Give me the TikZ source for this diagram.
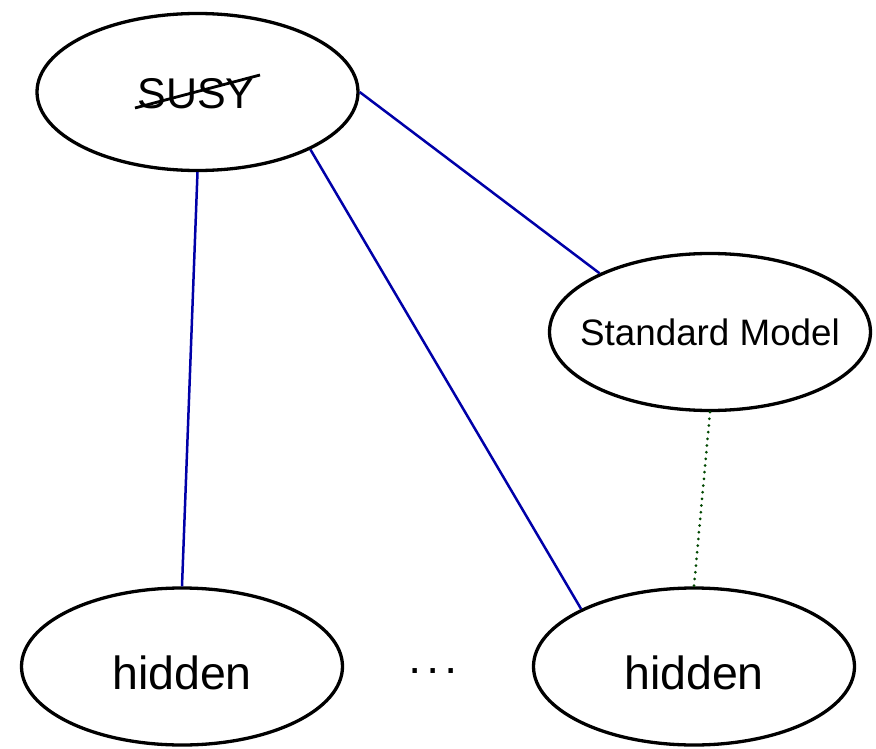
\documentclass[tikz,border=0pt]{standalone}
\usepackage{fontspec}
\setmainfont{Liberation Sans}
\usetikzlibrary{shapes.geometric,calc}
\definecolor{linkblue}{rgb}{0,0,0.66}
\definecolor{dotgreen}{rgb}{0,0.28,0}
\tikzset{
  bubble/.style={ellipse, draw=black, line width=3.3pt, minimum width=321pt, minimum height=157pt, inner sep=0pt},
  lbl/.style={inner sep=0pt, outer sep=0pt, text=black},
  link/.style={draw=linkblue, line width=2.5pt},
  weak/.style={draw=dotgreen, line width=3pt, line cap=round, dash pattern=on 0pt off 6.7pt},
  strike/.style={draw=black, line width=2.8pt}
}
\begin{document}
\begin{tikzpicture}[x=1pt,y=-1pt]
\useasboundingbox (0,0) rectangle (876,749);
\node[bubble] (susy) at (197.5,92) {};
\node[bubble] (sm) at (710,332) {};
\node[bubble] (hl) at (182,666.5) {};
\node[bubble] (hr) at (694,666.5) {};
\node[lbl, font=\fontsize{43}{43}\selectfont] (susyt) at (196,93.5) {SUSY};
\node[lbl, font=\fontsize{36.8}{37}\selectfont] (smt) at (710,332.5) {Standard Model};
\node[lbl, font=\fontsize{46.5}{47}\selectfont] (hlt) at (182,672.5) {hidden};
\node[lbl, font=\fontsize{46.5}{47}\selectfont] (hrt) at (694,672.5) {hidden};
\node[lbl, font=\fontsize{46}{46}\selectfont] (dots) at (433,676) {·\hspace{3pt}·\hspace{3pt}·};
\coordinate (s1) at (135,108);
\coordinate (s2) at (260,75);
\draw[strike] (s1) -- (s2);
\draw[link] (susy.south) -- (hl.north);
\draw[link] (susy.-27) -- (hr.153);
\draw[link] (susy.east) -- (sm.152);
\draw[weak] (sm.south) -- (hr.north);
\end{tikzpicture}
\end{document}
